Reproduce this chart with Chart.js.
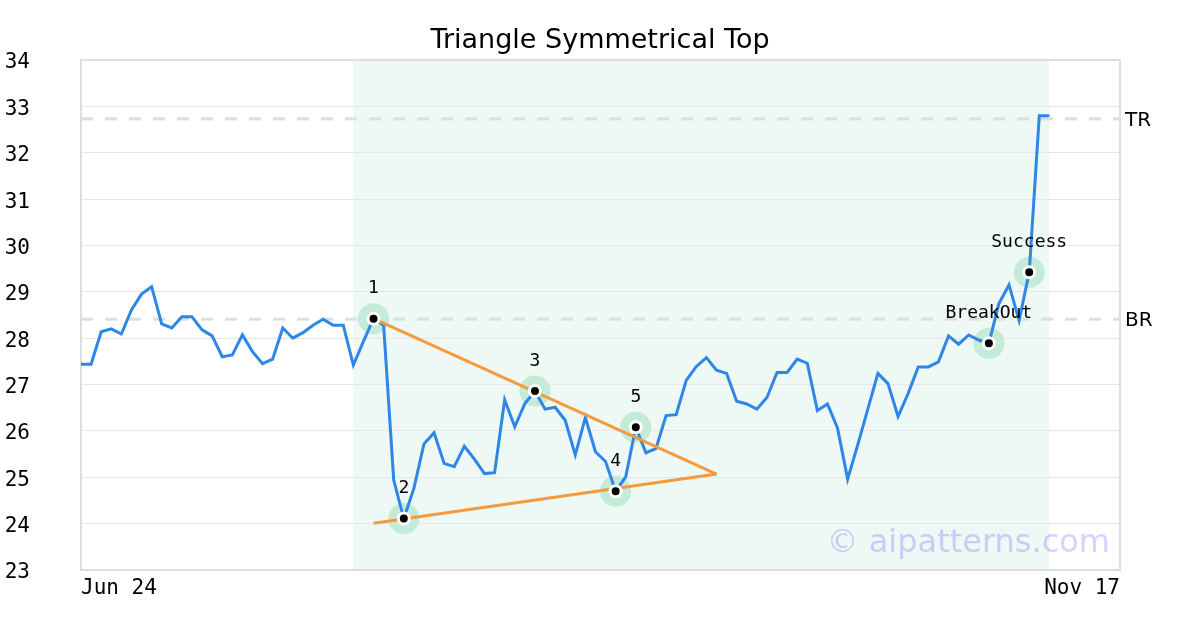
<!DOCTYPE html>
<html><head><meta charset="utf-8">
<script src="https://cdn.jsdelivr.net/npm/chart.js@4"></script>
<style>html,body{margin:0;padding:0;background:#fff}#wrap{width:1200px;height:630px}</style>
</head><body><div id="wrap"><canvas id="c" width="1200" height="630"></canvas></div>
<script>
const chartTitle = 'Triangle Symmetrical Top';
const xTickLabels = ['Jun 24', 'Nov 17'];
const xTickPositions = [0, 103];
const price = [
  27.44, 27.44, 28.14, 28.20, 28.09, 28.61, 28.95, 29.11, 28.31, 28.22,
  28.46, 28.46, 28.18, 28.05, 27.60, 27.64, 28.07, 27.71, 27.45, 27.55,
  28.22, 28.00, 28.12, 28.28, 28.41, 28.28, 28.28, 27.42, 27.93, 28.42,
  28.28, 24.94, 24.11, 24.76, 25.72, 25.96, 25.30, 25.23, 25.67, 25.39,
  25.08, 25.10, 26.67, 26.09, 26.59, 26.86, 26.47, 26.51, 26.23, 25.48,
  26.29, 25.55, 25.34, 24.70, 25.01, 26.08, 25.53, 25.62, 26.33, 26.35,
  27.09, 27.39, 27.58, 27.31, 27.24, 26.64, 26.58, 26.47, 26.72, 27.26,
  27.26, 27.55, 27.46, 26.44, 26.58, 26.06, 24.96, 25.70, 26.47, 27.24,
  27.02, 26.31, 26.81, 27.38, 27.38, 27.49, 28.05, 27.87, 28.07, 27.96,
  27.89, 28.75, 29.15, 28.38, 29.42, 32.80, 32.80
];
const markerIdx = [29, 32, 45, 53, 55, 90, 94];
const markerLabels = ['1', '2', '3', '4', '5', 'BreakOut', 'Success'];
const upperX = [29, 63];
const upperY = [28.42, 25.07];
const lowerX = [29, 63];
const lowerY = [24.01, 25.07];
const levelNames = ['TR', 'BR'];
const levelValues = [32.73, 28.41];
const shadeRange = [27, 96];
const yMin = 23, yMax = 34;
const watermark = '\u00A9 aipatterns.com';

const pricePts = price.map((v, i) => ({x: i, y: v}));
const markerPts = markerIdx.map(i => ({x: i, y: price[i]}));
const upperPts = upperX.map((x, i) => ({x, y: upperY[i]}));
const lowerPts = lowerX.map((x, i) => ({x, y: lowerY[i]}));
const levelSets = levelValues.map(v => ({
  data: [{x: xTickPositions[0], y: v}, {x: xTickPositions[1], y: v}],
  borderColor: '#dedede', borderWidth: 3, borderDash: [12, 12], pointRadius: 0, order: 6, fill: false
}));

const labelShift = {y: 3, y2: 2};

const decor = {
  id: 'decor',
  beforeDraw(chart) {
    const {ctx, chartArea: a, scales: {x}} = chart;
    Object.keys(labelShift).forEach(id => {
      const items = chart.scales[id].getLabelItems(chart.chartArea);
      if (!items._shifted) {
        items.forEach(it => { it.textOffset += labelShift[id]; });
        items._shifted = true;
      }
    });
    ctx.save();
    ctx.fillStyle = '#eef8f4';
    const x0 = x.getPixelForValue(shadeRange[0]), x1 = x.getPixelForValue(shadeRange[1]);
    ctx.fillRect(x0, a.top, x1 - x0, a.bottom - a.top);
    ctx.restore();
  },
  beforeDatasetsDraw(chart) {
    const {ctx, chartArea: a} = chart;
    ctx.save();
    ctx.strokeStyle = '#dddddd';
    ctx.lineWidth = 2;
    ctx.strokeRect(a.left, a.top, a.right - a.left, a.bottom - a.top);
    ctx.restore();
  },
  afterDatasetsDraw(chart) {
    const {ctx, chartArea: a, scales: {x, y}} = chart;
    ctx.save();
    ctx.fillStyle = '#000';
    ctx.font = '18px "DejaVu Sans Mono"';
    ctx.textAlign = 'center';
    ctx.textBaseline = 'middle';
    markerPts.forEach((p, i) => {
      ctx.fillText(markerLabels[i], x.getPixelForValue(p.x), y.getPixelForValue(p.y) - 30);
    });
    ctx.font = '32px "DejaVu Sans"';
    ctx.fillStyle = 'rgba(110,110,250,0.3)';
    ctx.textAlign = 'right';
    ctx.textBaseline = 'alphabetic';
    ctx.fillText(watermark, a.right - 10, a.bottom - 18);
    ctx.restore();
  }
};

const fixVPad = s => { s.paddingTop = 10; s.paddingBottom = 10; };

new Chart(document.getElementById('c'), {
  type: 'line',
  data: {
    datasets: [
      {data: markerPts, showLine: false, pointRadius: 5.5, pointBackgroundColor: '#000', pointBorderColor: '#fff', pointBorderWidth: 3, order: 0},
      {data: upperPts, borderColor: '#f79a3e', borderWidth: 3, pointRadius: 0, order: 1},
      {data: lowerPts, borderColor: '#f79a3e', borderWidth: 3, pointRadius: 0, order: 1},
      {data: pricePts, borderColor: '#2e86e6', borderWidth: 3, pointRadius: 0, tension: 0, order: 2},
      {data: markerPts, showLine: false, pointRadius: 15.5, pointBackgroundColor: '#c3ebd7', pointBorderWidth: 0, order: 5},
      ...levelSets
    ]
  },
  options: {
    responsive: false,
    animation: false,
    devicePixelRatio: 1,
    events: [],
    layout: {padding: 0},
    plugins: {
      legend: {display: false},
      tooltip: {enabled: false},
      title: {display: true, text: chartTitle, color: '#000', font: {family: 'DejaVu Sans', size: 27, weight: 'normal', lineHeight: 1.2}, padding: {top: 25, bottom: 2.6}}
    },
    scales: {
      x: {
        type: 'linear', min: xTickPositions[0], max: xTickPositions[1],
        grid: {display: false, drawTicks: false}, border: {display: false},
        afterBuildTicks: s => { s.ticks = xTickPositions.map(v => ({value: v})); },
        afterFit: s => { s.height = 60; },
        ticks: {
          align: 'inner', maxRotation: 0, autoSkip: false, padding: 6, color: '#000',
          font: {family: 'DejaVu Sans Mono', size: 21},
          callback: v => { const i = xTickPositions.indexOf(v); return i >= 0 ? xTickLabels[i] : ''; }
        }
      },
      y: {
        min: yMin, max: yMax,
        grid: {color: '#e6e6e6', drawTicks: false}, border: {display: false},
        afterFit: s => { s.width = 81; fixVPad(s); },
        ticks: {stepSize: 1, crossAlign: 'near', padding: 51, color: '#000', font: {family: 'DejaVu Sans Mono', size: 21}}
      },
      y2: {
        position: 'right', min: yMin, max: yMax,
        grid: {display: false, drawTicks: false}, border: {display: false},
        afterBuildTicks: s => { s.ticks = levelValues.map(v => ({value: v})); },
        afterFit: s => { s.width = 80; fixVPad(s); },
        ticks: {
          autoSkip: false, padding: 5, color: '#000', font: {family: 'DejaVu Sans', size: 20},
          callback: v => { const i = levelValues.indexOf(v); return i >= 0 ? levelNames[i] : ''; }
        }
      }
    }
  },
  plugins: [decor]
});
</script>
</body></html>
